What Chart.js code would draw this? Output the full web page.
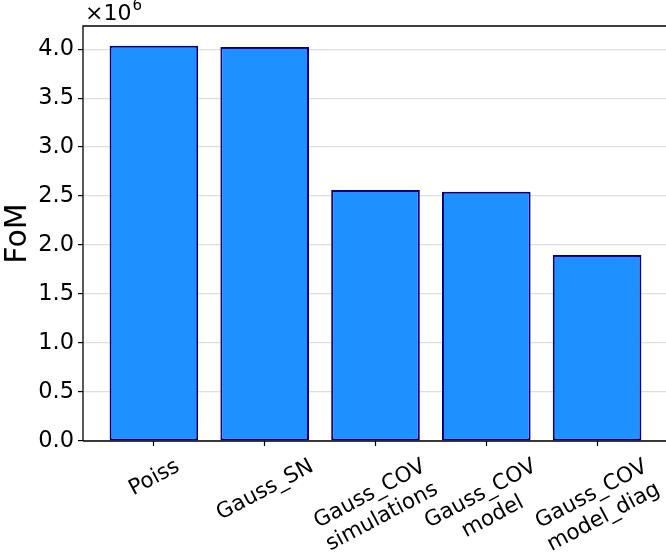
<!DOCTYPE html>
<html>
<head>
<meta charset="utf-8">
<script src="https://cdn.jsdelivr.net/npm/chart.js@4"></script>
<style>
  html, body { margin: 0; padding: 0; background: #fff; overflow: hidden; }
  #wrap { width: 670px; height: 552px; }
</style>
</head>
<body>
<div id="wrap"><canvas id="fomChart"></canvas></div>
<script>
// DATA
const categories = [
    ["Poiss"],
    ["Gauss_SN"],
    ["Gauss_COV", "simulations"],
    ["Gauss_COV", "model"],
    ["Gauss_COV", "model_diag"]
];
const fomValues = [4.034e6, 4.022e6, 2.561e6, 2.544e6, 1.898e6];
const yTicks = [0, 0.5e6, 1.0e6, 1.5e6, 2.0e6, 2.5e6, 3.0e6, 3.5e6, 4.0e6];

const FONT = "'DejaVu Sans', sans-serif";
const LABEL_SIZE = 21.5;

// frame, offset text and rotated category labels
const extras = {
    id: "extras",
    afterDraw(chart) {
        const c = chart.ctx;
        const a = chart.chartArea;
        const xs = chart.scales.x;

        c.save();
        c.strokeStyle = "#000";
        c.lineWidth = 1.3;
        c.beginPath();
        c.moveTo(a.left, a.bottom);
        c.lineTo(a.left, a.top);
        c.lineTo(a.right, a.top);
        c.lineTo(a.right, a.bottom);
        c.lineTo(a.left, a.bottom);
        c.stroke();

        // x10^6
        c.fillStyle = "#000";
        c.textBaseline = "alphabetic";
        c.textAlign = "left";
        c.font = "22px " + FONT;
        c.fillText("\u00d710", a.left + 2, 20);
        const w = c.measureText("\u00d710").width;
        c.font = "15px " + FONT;
        c.fillText("6", a.left + 2 + w + 1, 10);

        // category labels, rotated, centred under the tick
        const th = 28 * Math.PI / 180;
        const lh = LABEL_SIZE * 1.2;
        c.font = LABEL_SIZE + "px " + FONT;
        categories.forEach((lines, i) => {
            const x = xs.getPixelForValue(i);
            const bw = Math.max(...lines.map(l => c.measureText(l).width));
            const bh = lines.length * lh;
            const H = bw * Math.sin(th) + bh * Math.cos(th);
            const top = a.bottom + 12;
            c.save();
            c.translate(x, top + H / 2);
            c.rotate(-th);
            c.textAlign = "center";
            c.textBaseline = "middle";
            lines.forEach((l, k) => {
                c.fillText(l, 0, (k - (lines.length - 1) / 2) * lh + 1);
            });
            c.restore();
        });
        c.restore();
    }
};

const ctx = document.getElementById("fomChart").getContext("2d");
new Chart(ctx, {
    type: "bar",
    data: {
        datasets: [{
            label: "FoM",
            data: fomValues.map((v, i) => ({ x: i, y: v })),
            backgroundColor: "#1e90ff",
            borderColor: "#000080",
            borderWidth: 2,
            borderSkipped: false,
            categoryPercentage: 1.0,
            barPercentage: 0.8
        }]
    },
    options: {
        responsive: true,
        maintainAspectRatio: false,
        animation: false,
        layout: { padding: { left: 0, right: 2, top: 26, bottom: 0 } },
        plugins: {
            legend: { display: false },
            tooltip: { enabled: false }
        },
        scales: {
            x: {
                type: "linear",
                offset: false,
                min: -0.64,
                max: 4.64,
                afterBuildTicks: s => { s.ticks = categories.map((c, i) => ({ value: i })); },
                afterFit: s => { s.height = 111; },
                border: { display: false },
                grid: {
                    offset: false,
                    drawOnChartArea: false,
                    drawTicks: true,
                    tickLength: 5,
                    tickColor: "#000",
                    tickWidth: 1.2
                },
                ticks: { display: false }
            },
            y: {
                min: 0,
                max: 4.236e6,
                z: 1,
                afterBuildTicks: s => { s.ticks = yTicks.map(v => ({ value: v })); },
                afterFit: s => { s.width = 83; },
                border: { display: false },
                grid: {
                    color: "rgba(190,190,190,0.5)",
                    lineWidth: 1.2,
                    tickLength: 5,
                    tickColor: "#000",
                    tickWidth: 1.2
                },
                ticks: {
                    color: "#000",
                    font: { family: FONT, size: 22.5 },
                    padding: 4,
                    callback: v => (v / 1e6).toFixed(1)
                },
                title: {
                    display: true,
                    text: "FoM",
                    color: "#000",
                    font: { family: FONT, size: 30 },
                    padding: { top: 0, bottom: 0 }
                }
            }
        }
    },
    plugins: [extras]
});
</script>
</body>
</html>
